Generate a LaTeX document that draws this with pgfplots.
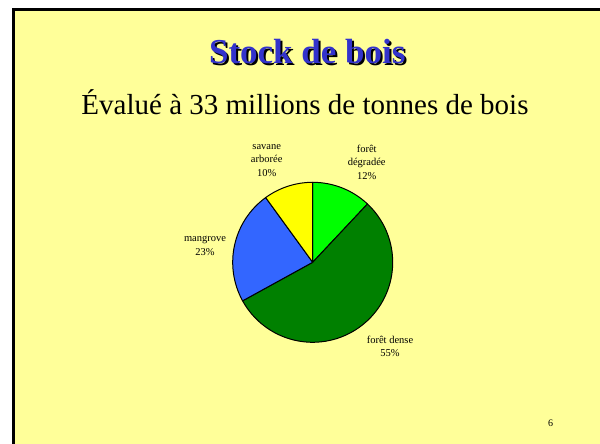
\documentclass[border=0pt]{standalone}
\usepackage{fontspec}
\setmainfont{Liberation Serif}
\usepackage{pgfplots}
\usepackage{pgfplotstable}
\pgfplotsset{compat=1.18}
\definecolor{slidebg}{RGB}{255,255,153}
\definecolor{titleblue}{RGB}{51,51,204}
\definecolor{cdeg}{RGB}{0,255,0}
\definecolor{cdense}{RGB}{0,128,0}
\definecolor{cmang}{RGB}{51,102,255}
\definecolor{csav}{RGB}{255,255,0}

\pgfplotstableread{
value
12
55
23
10
}\piedata
\pgfplotstablecreatecol[create col/expr accum={\pgfmathaccuma + \thisrow{value}}{0}]{cum}\piedata

\begin{document}
\begin{tikzpicture}[x=1pt,y=1pt]
\useasboundingbox (0,0) rectangle (600,444);
\fill[white] (0,0) rectangle (600,444);
\fill[slidebg] (13.5,0) rectangle (600,434.5);
\draw[line width=3pt,black] (13.5,0) -- (13.5,434.5) -- (600,434.5);

% title with shadow
\node[anchor=base,text=black,font=\fontsize{35}{40}\selectfont\bfseries] at (309.3,378.7) {Stock de bois};
\node[anchor=base,text=titleblue,font=\fontsize{35}{40}\selectfont\bfseries] at (307.3,380.7) {Stock de bois};
% subtitle
\node[anchor=base,font=\fontsize{29}{34}\selectfont] at (305,329.7) {Évalué à 33 millions de tonnes de bois};
% page number
\node[anchor=base,font=\fontsize{10}{12}\selectfont] at (550.7,17.5) {6};

\begin{axis}[
  at={(312.7,181.7)}, anchor=origin,
  x=1pt, y=1pt,
  xmin=-130, xmax=130, ymin=-110, ymax=120,
  hide axis, clip=false,
]
\addplot[draw=none] coordinates {(0,0)};
\pgfplotsextra{
  \foreach \i/\col in {0/cdeg,1/cdense,2/cmang,3/csav}{
    \pgfplotstablegetelem{\i}{value}\of\piedata \let\v\pgfplotsretval
    \pgfplotstablegetelem{\i}{cum}\of\piedata \let\c\pgfplotsretval
    \pgfmathsetmacro{\a}{90-3.6*(\c-\v)}
    \pgfmathsetmacro{\b}{90-3.6*\c}
    \filldraw[fill=\col, draw=black, line width=1pt, line join=round]
      (axis cs:0,0) -- (axis cs:{80*cos(\a)},{80*sin(\a)})
      arc[start angle=\a, end angle=\b, radius=80pt] -- cycle;
  }
}
\node[align=center,font=\fontsize{10.5}{13.5}\selectfont] at (axis cs:54,100.3) {forêt\\dégradée\\12\%};
\node[align=center,font=\fontsize{10.5}{13.5}\selectfont] at (axis cs:-46,102) {savane\\arborée\\10\%};
\node[align=center,font=\fontsize{10.5}{13.5}\selectfont] at (axis cs:-107.7,16.4) {mangrove\\23\%};
\node[align=center,font=\fontsize{10.5}{13.5}\selectfont] at (axis cs:77.3,-84.2) {forêt dense\\55\%};
\end{axis}
\end{tikzpicture}
\end{document}
